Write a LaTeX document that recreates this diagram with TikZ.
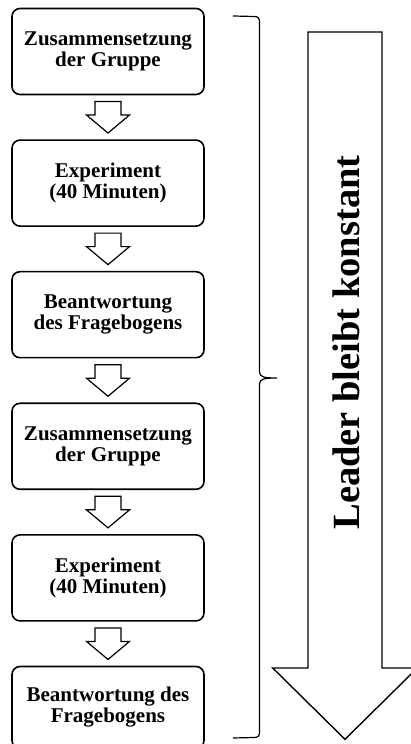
\documentclass[tikz,border=0pt]{standalone}
\usepackage{fontspec}
\setmainfont{Liberation Serif}
\usetikzlibrary{positioning,calc}

\newcommand{\flowarrow}[1]{%
  \draw [black,line width=1.2pt] ($(#1)+(-13,15.75)$) -- ++(26,0) -- ++(0,-13.5) -- ++(8.5,0)
    -- ($(#1)+(0,-15.75)$) -- ($(#1)+(-21.5,2.25)$) -- ++(8.5,0) -- cycle;}

\begin{document}
\begin{tikzpicture}[x=1pt,y=1pt]
\tikzstyle{every node}+=[inner sep=0pt]
\tikzstyle{stepbox}=[draw=black,line width=1.6pt,rounded corners=8pt,minimum width=192pt,minimum height=86pt,align=center,font=\fontsize{21}{21}\selectfont\bfseries]
\useasboundingbox (0,0) rectangle (411,744);
\node[stepbox] (b1) at (108,692.5) {Zusammensetzung\\der Gruppe};
\node[stepbox,below=44pt of b1] (b2) {Experiment\\(40 Minuten)};
\node[stepbox,below=44pt of b2] (b3) {Beantwortung\\des Fragebogens};
\node[stepbox,below=44pt of b3] (b4) {Zusammensetzung\\der Gruppe};
\node[stepbox,below=44pt of b4] (b5) {Experiment\\(40 Minuten)};
\node[stepbox,below=44pt of b5,minimum height=82pt] (b6) {Beantwortung des\\Fragebogens};
\foreach \i/\j in {1/2,2/3,3/4,4/5,5/6} {
  \coordinate (a\i) at ($(b\i.south)!0.5!(b\j.north)$);
  \flowarrow{a\i}
}
\coordinate (lead) at (345,712);
\draw [black,line width=1.4pt] ($(lead)+(-37,0)$) -- ++(74,0) -- ++(0,-636) -- ++(35.3,0)
  -- ($(lead)+(0,-707.3)$) -- ($(lead)+(-72.3,-636)$) -- ++(35.3,0) -- cycle;
\node[rotate=90,anchor=base,font=\fontsize{38.5}{38.5}\selectfont\bfseries] (lbl) at (359.5,401.5) {Leader bleibt konstant};
\coordinate (bt) at (233,728);
\coordinate (bm) at (277,366);
\coordinate (bb) at (233,6);
\draw [black,line width=1.2pt] (bt) -- (254,727.5) .. controls (258,727.5) and (259.5,726) .. (259.5,722) -- (259.5,372) .. controls (259.5,367) and (264,366) .. (bm) .. controls (264,366) and (259.5,365) .. (259.5,360) -- (259.5,12) .. controls (259.5,8) and (258,6.5) .. (254,6.5) -- (bb);
\end{tikzpicture}
\end{document}
